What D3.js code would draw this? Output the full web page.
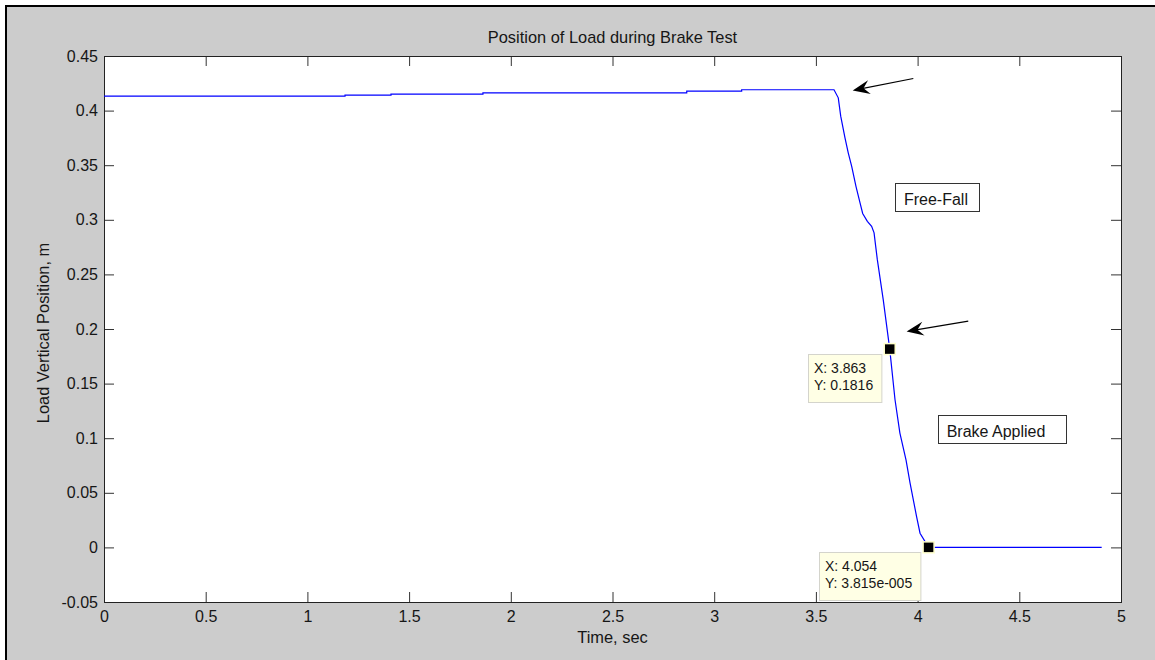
<!DOCTYPE html>
<html>
<head>
<meta charset="utf-8">
<script src="https://cdn.jsdelivr.net/npm/d3@7"></script>
<style>
  html, body { margin: 0; padding: 0; background: #fff; }
  svg text { font-family: "Liberation Sans", Arial, sans-serif; fill: #161616; }
</style>
</head>
<body>
<div id="chart"></div>
<script>
var width = 1155, height = 660;
var plotLeft = 104, plotRight = 1121, plotTop = 56, plotBottom = 602;

// values
var timeSec = [0, 1.185, 1.185, 1.411, 1.411, 1.863, 1.863, 2.865, 2.865, 3.135, 3.135, 3.589,
    3.610, 3.622, 3.643, 3.659, 3.676, 3.697, 3.717, 3.730, 3.753, 3.774, 3.786, 3.794, 3.802,
    3.831, 3.863, 3.889, 3.913, 3.943, 3.963, 3.995, 4.012, 4.054, 4.905];
var position = [0.4132, 0.4132, 0.4141, 0.4141, 0.4150, 0.4150, 0.4163, 0.4163, 0.4178, 0.4178, 0.4191, 0.4191,
    0.4117, 0.3949, 0.3751, 0.3613, 0.3490, 0.3307, 0.3155, 0.3058, 0.2986, 0.2940, 0.2880, 0.2757, 0.2635,
    0.2269, 0.1816, 0.1352, 0.1047, 0.0802, 0.0588, 0.0282, 0.0130, 0.00004, 0.00004];

var xTicks = [0, 0.5, 1, 1.5, 2, 2.5, 3, 3.5, 4, 4.5, 5];
var yTicks = [-0.05, 0, 0.05, 0.1, 0.15, 0.2, 0.25, 0.3, 0.35, 0.4, 0.45];
var yTickLabels = ["-0.05", "0", "0.05", "0.1", "0.15", "0.2", "0.25", "0.3", "0.35", "0.4", "0.45"];

var tipX = [3.863, 4.054];
var tipY = [0.1816, 0.00003815];
var tipLines = [["X: 3.863", "Y: 0.1816"], ["X: 4.054", "Y: 3.815e-005"]];

var labels = ["Free-Fall", "Brake Applied"];
var labelX = [3.933, 4.143];
var labelY = [0.3139, 0.1015];
var labelBoxW = [85, 129];

var arrowFrom = [[3.979, 0.4294], [4.249, 0.2072]];
var arrowTo = [[3.681, 0.4184], [3.946, 0.1977]];

var svg = d3.select('#chart')
    .append('svg')
    .attr('width', width)
    .attr('height', height);

// figure background with the cut border
svg.append('rect').attr('x', 6).attr('y', 6).attr('width', width - 6).attr('height', height - 6)
    .attr('fill', '#cccccc');
svg.append('path').attr('d', 'M6,' + height + 'V6H' + width)
    .attr('fill', 'none').attr('stroke', '#000').attr('stroke-width', 2);

var xScale = d3.scaleLinear().domain([0, 5]).range([plotLeft, plotRight]);
var yScale = d3.scaleLinear().domain([-0.05, 0.45]).range([plotBottom, plotTop]);

svg.append('rect').attr('x', plotLeft).attr('y', plotTop)
    .attr('width', plotRight - plotLeft).attr('height', plotBottom - plotTop)
    .attr('fill', '#fff');

// axes (ticks inward on all four sides)
var tl = 10;
svg.append('g').attr('transform', 'translate(0,' + plotBottom + ')')
    .call(d3.axisBottom(xScale).tickValues(xTicks).tickSize(-tl).tickPadding(9)
        .tickFormat(d3.format('~g')))
    .call(function(g){ g.select('.domain').remove(); });
svg.append('g').attr('transform', 'translate(0,' + plotTop + ')')
    .call(d3.axisTop(xScale).tickValues(xTicks).tickSize(-tl).tickFormat(''))
    .call(function(g){ g.select('.domain').remove(); });
svg.append('g').attr('transform', 'translate(' + plotLeft + ',0)')
    .call(d3.axisLeft(yScale).tickValues(yTicks).tickSize(-tl).tickPadding(6)
        .tickFormat(function(d, i){ return yTickLabels[i]; }))
    .call(function(g){ g.select('.domain').remove(); });
svg.append('g').attr('transform', 'translate(' + plotRight + ',0)')
    .call(d3.axisRight(yScale).tickValues(yTicks).tickSize(-tl).tickFormat(''))
    .call(function(g){ g.select('.domain').remove(); });

svg.selectAll('.tick line').attr('stroke', '#333');
svg.selectAll('.tick text').style('font-size', '16px').attr('fill', '#161616');

svg.append('rect').attr('x', plotLeft + 0.5).attr('y', plotTop + 0.5)
    .attr('width', plotRight - plotLeft).attr('height', plotBottom - plotTop)
    .attr('fill', 'none').attr('stroke', '#222').attr('stroke-width', 1);

// titles
svg.append('text').attr('x', (plotLeft + plotRight) / 2).attr('y', 43)
    .attr('text-anchor', 'middle').style('font-size', '16.4px')
    .text('Position of Load during Brake Test');
svg.append('text').attr('x', (plotLeft + plotRight) / 2).attr('y', 643)
    .attr('text-anchor', 'middle').style('font-size', '16.4px')
    .text('Time, sec');
svg.append('text').attr('transform', 'translate(49,333) rotate(-90)')
    .attr('text-anchor', 'middle').style('font-size', '16.4px')
    .text('Load Vertical Position, m');

// data line
var pts = timeSec.map(function(t, i){ return [t, position[i]]; });
svg.append('path')
    .datum(pts)
    .attr('d', d3.line().x(function(d){ return xScale(d[0]); }).y(function(d){ return yScale(d[1]); }))
    .attr('fill', 'none').attr('stroke', '#0000ff').attr('stroke-width', 1.2);

// arrows
arrowFrom.forEach(function(f, i){
    var x0 = xScale(f[0]), y0 = yScale(f[1]);
    var x1 = xScale(arrowTo[i][0]), y1 = yScale(arrowTo[i][1]);
    var a = Math.atan2(y1 - y0, x1 - x0);
    var g = svg.append('g');
    g.append('line').attr('x1', x0).attr('y1', y0).attr('x2', x1 - 8 * Math.cos(a)).attr('y2', y1 - 8 * Math.sin(a))
        .attr('stroke', '#000').attr('stroke-width', 1.2);
    var hl = 17, hw = 7, back = 11;
    g.append('path')
        .attr('d', 'M0,0L' + (-hl) + ',' + (-hw) + 'L' + (-back) + ',0L' + (-hl) + ',' + hw + 'Z')
        .attr('transform', 'translate(' + x1 + ',' + y1 + ') rotate(' + (a * 180 / Math.PI) + ')')
        .attr('fill', '#000');
});

// text boxes
labels.forEach(function(s, i){
    var tx = xScale(labelX[i]), ty = yScale(labelY[i]);
    svg.append('rect').attr('x', Math.round(tx - 9) + 0.5).attr('y', Math.round(ty - 22) + 0.5)
        .attr('width', labelBoxW[i] - 1).attr('height', 28)
        .attr('fill', '#fff').attr('stroke', '#333').attr('stroke-width', 1);
    svg.append('text').attr('x', tx).attr('y', ty).style('font-size', '16px').text(s);
});

// data tips
tipX.forEach(function(t, i){
    var mx = xScale(t), my = yScale(tipY[i]);
    var g = svg.append('g');
    var txt = g.append('text').style('font-size', '14px').attr('fill', '#222');
    tipLines[i].forEach(function(s, j){
        txt.append('tspan').attr('x', 0).attr('y', 19 + j * 17).text(s);
    });
    var w = txt.node().getBBox().width + 14;
    var bx = Math.round(mx - 8 - w), by = Math.round(my + 5);
    g.insert('rect', 'text').attr('x', bx + 0.5).attr('y', by + 0.5).attr('width', w).attr('height', 48)
        .attr('fill', '#ffffe5').attr('stroke', '#d4d4cc').attr('stroke-width', 1);
    txt.attr('transform', 'translate(' + (bx + 6) + ',' + by + ')');
    svg.append('rect').attr('x', mx - 5.5).attr('y', my - 5.5).attr('width', 11).attr('height', 11)
        .attr('fill', '#000').attr('stroke', '#ffffcc').attr('stroke-width', 1.5);
});
</script>
</body>
</html>
